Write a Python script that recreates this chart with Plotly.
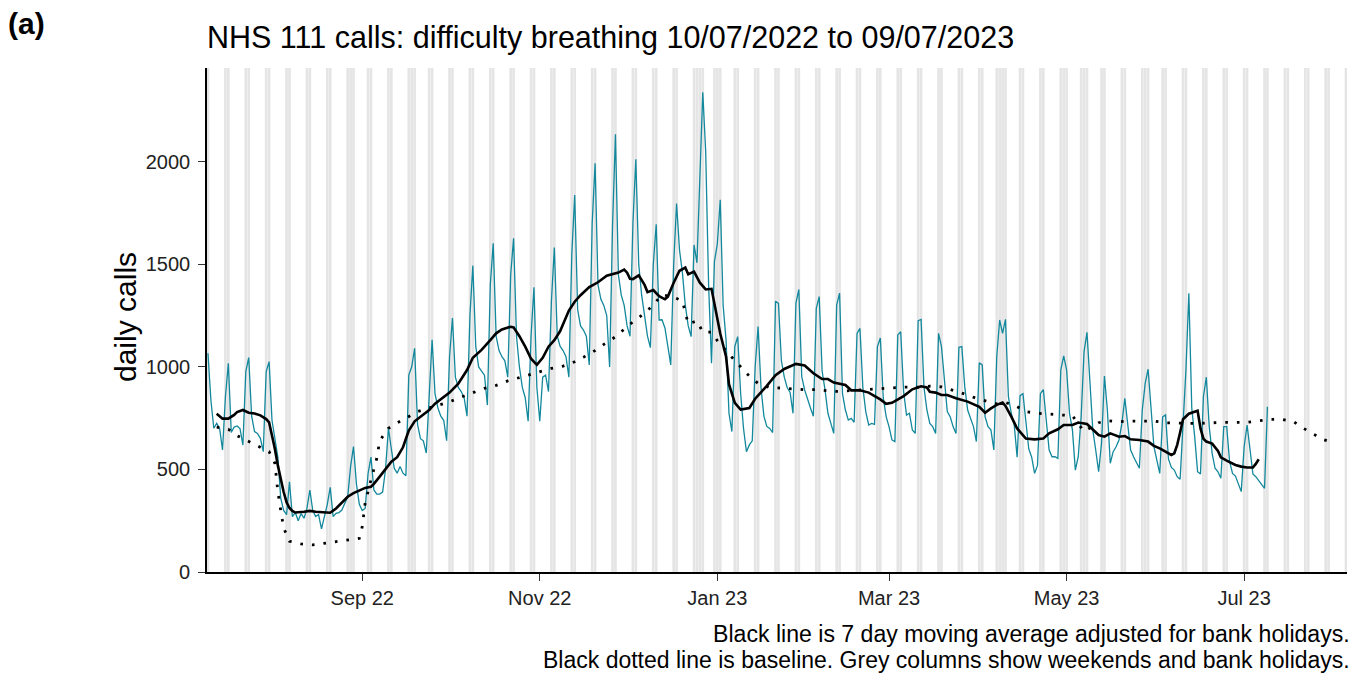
import pandas as pd
import plotly.graph_objects as go

# ---------------- data ----------------
start_date = "2022-07-10"

# daily NHS 111 calls, 10/07/2022 (Sun) then one row per week Mon..Sun
daily_calls = [
    1067,
    839, 701, 725, 700, 595, 855, 1018,
    680, 707, 712, 700, 619, 977, 1046,
    760, 685, 676, 652, 587, 977, 1026,
    740, 640, 560, 360, 300, 280, 440,
    270, 290, 250, 285, 262, 310, 400,
    300, 270, 280, 210, 270, 330, 413,
    270, 286, 290, 302, 335, 367, 514,
    612, 430, 330, 300, 310, 480, 560,
    400, 380, 380, 390, 500, 701, 600,
    506, 482, 514, 482, 470, 960, 1001,
    1091, 720, 650, 640, 580, 880, 1133,
    870, 800, 760, 740, 640, 1050, 1238,
    950, 900, 880, 850, 760, 1250, 1494,
    1100, 1000, 980, 960, 814, 1400, 1603,
    1150, 1080, 1050, 1030, 950, 1450, 1628,
    1150, 1000, 900, 850, 735, 1150, 1389,
    900, 735, 950, 960, 880, 1320, 1582,
    1150, 1100, 1080, 1050, 950, 1550, 1839,
    1280, 1200, 1180, 1150, 1010, 1700, 1993,
    1400, 1330, 1300, 1250, 1000, 1690, 2135,
    1450, 1350, 1300, 1200, 1150, 1700, 2013,
    1500, 1350, 1250, 1150, 1094, 1500, 1696,
    1229, 1230, 1190, 1100, 1010, 1500, 1797,
    1571, 1460, 1300, 1200, 1148, 1595, 1508,
    1930, 2340, 2050, 1400, 1018, 1513, 1600,
    1815, 1300, 1131, 774, 685, 1100, 1148,
    872, 700, 587, 620, 640, 1000, 1197,
    900, 760, 710, 700, 680, 1320, 1310,
    1030, 950, 900, 876, 774, 1310, 1378,
    953, 888, 839, 800, 760, 1286, 1343,
    980, 888, 774, 725, 676, 1302, 1360,
    870, 790, 741, 749, 730, 1164, 1188,
    900, 782, 717, 725, 720, 1099, 1141,
    850, 758, 708, 644, 636, 1156, 1172,
    880, 765, 774, 693, 676, 1226, 1232,
    900, 790, 725, 709, 676, 1164, 1100,
    950, 782, 757, 709, 676, 1096, 1099,
    904, 790, 749, 709, 636, 1021, 1010,
    757, 709, 693, 595, 1050, 1229, 1164,
    1232, 855, 774, 717, 560, 860, 870,
    720, 600, 560, 481, 520, 870, 890,
    741, 595, 562, 562, 554, 985, 1054,
    985, 774, 693, 497, 562, 758, 1075,
    1169, 936, 693, 595, 489, 628, 956,
    790, 530, 587, 611, 644, 725, 847,
    709, 595, 562, 530, 506, 790, 920,
    989, 774, 611, 546, 481, 757, 766,
    550, 510, 497, 465, 452, 709, 985,
    1359, 800, 660, 489, 478, 855, 950,
    709, 579, 506, 489, 457, 709, 709,
    538, 481, 468, 432, 392, 611, 717,
    600, 478, 465, 446, 424, 408, 806,
]

# 7 day moving average (adjusted for bank holidays): days since start_date, value
ma_day = [3, 5, 7, 9, 10, 12, 14, 16, 18, 20, 21, 22, 23, 24, 25, 26, 27, 28, 29, 30,
          33, 35, 37, 40, 42, 44, 46, 48, 50, 52, 54, 56, 57, 59, 61, 63, 65, 67, 68, 69,
          71, 73, 76, 78, 81, 83, 86, 88, 89, 91, 94, 97, 99, 101, 104, 105, 107, 109, 111, 113,
          115, 117, 119, 121, 124, 126, 128, 131, 134, 137, 139, 141, 143, 144, 145, 146, 148, 150, 151, 153,
          155, 157, 158, 160, 162, 164, 165, 167, 169, 171, 173, 174, 176, 178, 179, 181, 183, 186, 188, 192,
          195, 198, 202, 205, 208, 211, 213, 215, 218, 219, 221, 224, 227, 231, 233, 235, 239, 242, 245, 247,
          248, 250, 252, 254, 257, 261, 265, 267, 269, 271, 273, 274, 276, 278, 281, 284, 287, 289, 292, 294,
          297, 299, 302, 304, 306, 308, 310, 313, 315, 317, 320, 323, 325, 327, 329, 331, 332, 333, 334, 335,
          337, 339, 340, 341, 342, 343, 345, 347, 348, 350, 353, 355, 357, 359, 360, 361]
ma_value = [772, 748, 748, 766, 780, 790, 777, 773, 764, 746, 730, 670, 600, 520, 450, 390, 340, 312, 298, 290,
            294, 298, 294, 292, 289, 310, 338, 367, 385, 397, 410, 416, 430, 465, 500, 538, 560, 608, 650, 690,
            735, 758, 790, 821, 852, 875, 918, 960, 985, 1045, 1083, 1131, 1164, 1183, 1196, 1193, 1150, 1099, 1040, 1010,
            1045, 1099, 1131, 1175, 1275, 1318, 1350, 1390, 1413, 1445, 1454, 1460, 1475, 1460, 1430, 1428, 1447, 1400, 1365, 1375,
            1345, 1330, 1343, 1411, 1469, 1485, 1452, 1465, 1411, 1378, 1381, 1312, 1163, 1050, 916, 825, 792, 800, 845, 908,
            960, 990, 1015, 1007, 969, 941, 941, 924, 916, 912, 886, 886, 875, 842, 820, 825, 858, 891, 906, 900,
            879, 875, 863, 863, 847, 831, 806, 777, 798, 815, 826, 810, 758, 700, 651, 647, 651, 676, 696, 717,
            717, 729, 722, 693, 668, 660, 676, 660, 663, 647, 644, 636, 615, 603, 585, 571, 579, 620, 680, 745,
            772, 779, 786, 700, 650, 636, 626, 590, 559, 543, 522, 514, 510, 510, 527, 550]

# baseline: days since start_date, value
baseline_day = [3, 7, 10, 14, 18, 21, 23, 24, 25, 26, 28, 32, 36, 40, 44, 48, 52, 53, 54, 56,
                57, 58, 59, 62, 65, 69, 72, 76, 79, 83, 87, 91, 95, 99, 103, 106, 110, 114, 118, 122,
                126, 129, 133, 136, 140, 143, 146, 150, 153, 156, 160, 163, 164, 165, 168, 170, 173, 175, 180, 183,
                186, 189, 193, 197, 201, 205, 209, 213, 216, 221, 225, 229, 232, 236, 240, 244, 248, 252, 256, 260,
                264, 268, 271, 274, 278, 281, 285, 289, 293, 297, 301, 306, 309, 313, 317, 321, 325, 329, 333, 337,
                341, 345, 349, 353, 357, 361, 365, 369, 373, 376, 379, 383, 387]
baseline_value = [706, 696, 665, 636, 611, 587, 530, 392, 300, 215, 150, 137, 132, 140, 148, 156, 164, 221, 335, 449,
                  500, 555, 640, 701, 727, 760, 782, 800, 813, 830, 853, 873, 896, 910, 932, 944, 961, 977, 993, 1004,
                  1025, 1047, 1080, 1110, 1147, 1184, 1220, 1262, 1303, 1353, 1340, 1322, 1262, 1210, 1225, 1170, 1170, 1128, 1047, 1002,
                  955, 920, 899, 897, 893, 889, 889, 886, 881, 885, 889, 891, 896, 900, 902, 901, 906, 903, 886, 868,
                  847, 831, 820, 827, 806, 782, 774, 770, 766, 762, 685, 728, 738, 733, 736, 736, 736, 728, 725, 725,
                  725, 728, 730, 730, 730, 737, 744, 744, 733, 704, 681, 647, 628]

bank_holidays = ["2022-08-29", "2022-09-19", "2022-12-26", "2022-12-27", "2023-01-02",
                 "2023-04-07", "2023-04-10", "2023-05-01", "2023-05-08", "2023-05-29"]
column_span = ["2022-07-09", "2023-08-06"]

x_tick_dates = ["2022-09-01", "2022-11-01", "2023-01-01", "2023-03-01", "2023-05-01", "2023-07-01"]
x_tick_labels = ["Sep 22", "Nov 22", "Jan 23", "Mar 23", "May 23", "Jul 23"]
y_tick_values = [0, 500, 1000, 1500, 2000]

title_text = "NHS 111 calls: difficulty breathing 10/07/2022 to 09/07/2023"
panel_label = "(a)"
y_title = "daily calls"
caption_lines = ["Black line is 7 day moving average adjusted for bank holidays.",
                 "Black dotted line is baseline. Grey columns show weekends and bank holidays."]

# ---------------- figure ----------------
FONT = "Liberation Sans, Arial, sans-serif"
t0 = pd.Timestamp(start_date)
dates = pd.date_range(start_date, periods=len(daily_calls), freq="D")
ma_dates = [t0 + pd.Timedelta(days=d) for d in ma_day]
base_dates = [t0 + pd.Timedelta(days=d) for d in baseline_day]

hol = set(pd.to_datetime(bank_holidays))
all_days = pd.date_range(column_span[0], column_span[1], freq="D")
grey_days = [d for d in all_days if d.weekday() >= 5 or d in hol]

shapes = []
half = pd.Timedelta(hours=11)
for d in grey_days:
    shapes.append(dict(type="rect", xref="x", yref="paper",
                       x0=(d - half).isoformat(), x1=(d + half).isoformat(),
                       y0=0, y1=1, fillcolor="#e5e5e5", line=dict(width=0),
                       layer="below"))

fig = go.Figure()
fig.add_trace(go.Scatter(x=dates, y=daily_calls, mode="lines",
                         line=dict(color="#13889c", width=1.3), hoverinfo="skip"))
fig.add_trace(go.Scatter(x=base_dates, y=baseline_value, mode="lines",
                         line=dict(color="black", width=2.8, dash="2.6px,9px"), hoverinfo="skip"))
fig.add_trace(go.Scatter(x=ma_dates, y=ma_value, mode="lines",
                         line=dict(color="black", width=2.6), hoverinfo="skip"))

L, R, T, B = 207, 15, 68, 103
W, H = 1362, 675
pw, ph = W - L - R, H - T - B

def px_x(px):
    return (px - L) / pw

def px_y(py):
    return (H - B - py) / ph

axis_common = dict(showgrid=False, zeroline=False, showline=True, linecolor="black",
                   linewidth=1.6, ticks="outside", ticklen=7, tickwidth=1.4,
                   tickcolor="#333333", tickfont=dict(family=FONT, size=20, color="#222222"))

fig.update_layout(
    width=W, height=H, margin=dict(l=L, r=R, t=T, b=B),
    paper_bgcolor="white", plot_bgcolor="white", showlegend=False,
    shapes=shapes,
    xaxis=dict(type="date", range=["2022-07-09 16:00", "2023-08-05 08:00"],
               tickvals=x_tick_dates, ticktext=x_tick_labels, ticklabelstandoff=0,
               **axis_common),
    yaxis=dict(range=[0, 2458], tickvals=y_tick_values, ticklabelstandoff=4,
               **axis_common),
    annotations=[
        dict(text="<b>" + panel_label + "</b>", xref="paper", yref="paper",
             x=px_x(6), y=px_y(23), xanchor="left", yanchor="middle", showarrow=False,
             font=dict(family=FONT, size=30, color="black")),
        dict(text=title_text, xref="paper", yref="paper",
             x=px_x(205), y=px_y(37), xanchor="left", yanchor="middle", showarrow=False,
             font=dict(family=FONT, size=30.5, color="black")),
        dict(text=y_title, xref="paper", yref="paper", textangle=-90,
             x=px_x(125), y=px_y(317), xanchor="center", yanchor="middle", showarrow=False,
             font=dict(family=FONT, size=30, color="black")),
        dict(text=caption_lines[0], xref="paper", yref="paper",
             x=px_x(1352), y=px_y(634), xanchor="right", yanchor="middle", showarrow=False,
             font=dict(family=FONT, size=23.1, color="black")),
        dict(text=caption_lines[1], xref="paper", yref="paper",
             x=px_x(1352), y=px_y(660), xanchor="right", yanchor="middle", showarrow=False,
             font=dict(family=FONT, size=23.0, color="black")),
    ],
)

fig.write_html("out.html", config={"displayModeBar": False})

# remove the browser's default page margin so the figure sits at the window's corner
with open("out.html", "r", encoding="utf-8") as f:
    html = f.read()
html = html.replace("<head>", "<head><style>html,body{margin:0;padding:0;overflow:hidden;}</style>", 1)
with open("out.html", "w", encoding="utf-8") as f:
    f.write(html)
